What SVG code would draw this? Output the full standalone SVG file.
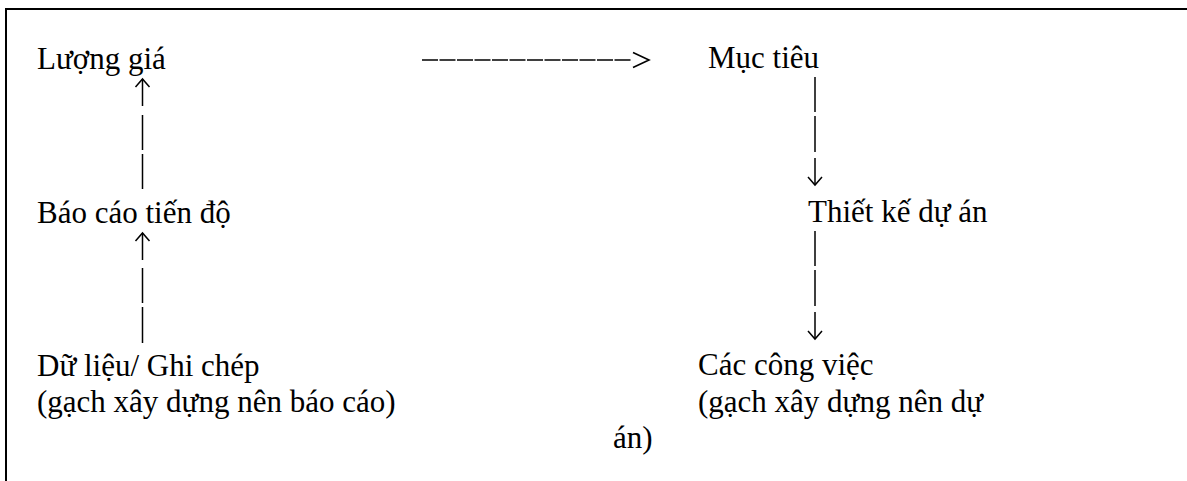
<svg xmlns="http://www.w3.org/2000/svg" width="1187" height="481" viewBox="0 0 1187 481">
  <style>
    .label { font-family: "Liberation Serif", "Times New Roman", serif; font-size: 31px; fill: #000; }
    .frame { fill: none; stroke: #000; stroke-width: 2; }
    .link { fill: none; stroke: #000; stroke-width: 1.5; }
    .dash { fill: none; stroke: #000; stroke-width: 1.5; stroke-dasharray: 16 1.5; }
    .head { fill: none; stroke: #000; stroke-width: 1.6; stroke-linejoin: miter; }
  </style>
  <defs>
    <!-- open chevron used on the vertical arrows -->
    <marker id="chev" viewBox="-10 -9 12 18" markerWidth="12" markerHeight="18" refX="0" refY="0" orient="auto" markerUnits="userSpaceOnUse">
      <path d="M-8,-7 L0,0 L-8,7" fill="none" stroke="#000" stroke-width="1.5"/>
    </marker>
  </defs>

  <rect width="1187" height="481" fill="#fff"/>

  <!-- page frame: left and top edges, running off the right and bottom -->
  <path class="frame" d="M6,481 V9 H1187"/>

  <g id="connectors">
    <!-- Dữ liệu -> Báo cáo tiến độ -->
    <path class="link" d="M142.5,343 V307 M142.5,303 V268 M142.5,260 V233" marker-end="url(#chev)"/>
    <!-- Báo cáo tiến độ -> Lượng giá -->
    <path class="link" d="M142.5,189 V154 M142.5,150 V115 M142.5,106 V79" marker-end="url(#chev)"/>
    <!-- Lượng giá -> Mục tiêu -->
    <path class="dash" d="M422,60 H632"/>
    <path class="head" d="M633,52.5 L649,60 L633,67.5"/>
    <!-- Mục tiêu -> Thiết kế dự án -->
    <path class="link" d="M815,77 V112 M815,116 V152 M815,158 V185" marker-end="url(#chev)"/>
    <!-- Thiết kế dự án -> Các công việc -->
    <path class="link" d="M815,231 V266 M815,270 V306 M815,312 V339" marker-end="url(#chev)"/>
  </g>

  <g id="node-luong-gia">
    <text class="label" x="37" y="69">Lượng giá</text>
  </g>
  <g id="node-bao-cao">
    <text class="label" x="37" y="223">Báo cáo tiến độ</text>
  </g>
  <g id="node-du-lieu">
    <text class="label" x="37" y="376">Dữ liệu/ Ghi chép</text>
    <text class="label" x="37" y="412">(gạch xây dựng nên báo cáo)</text>
  </g>
  <g id="node-muc-tieu">
    <text class="label" x="708" y="68">Mục tiêu</text>
  </g>
  <g id="node-thiet-ke">
    <text class="label" x="808" y="222">Thiết kế dự án</text>
  </g>
  <g id="node-cong-viec">
    <text class="label" x="698" y="375">Các công việc</text>
    <text class="label" x="698" y="412">(gạch xây dựng nên dự</text>
    <text class="label" x="613" y="448">án)</text>
  </g>
</svg>
